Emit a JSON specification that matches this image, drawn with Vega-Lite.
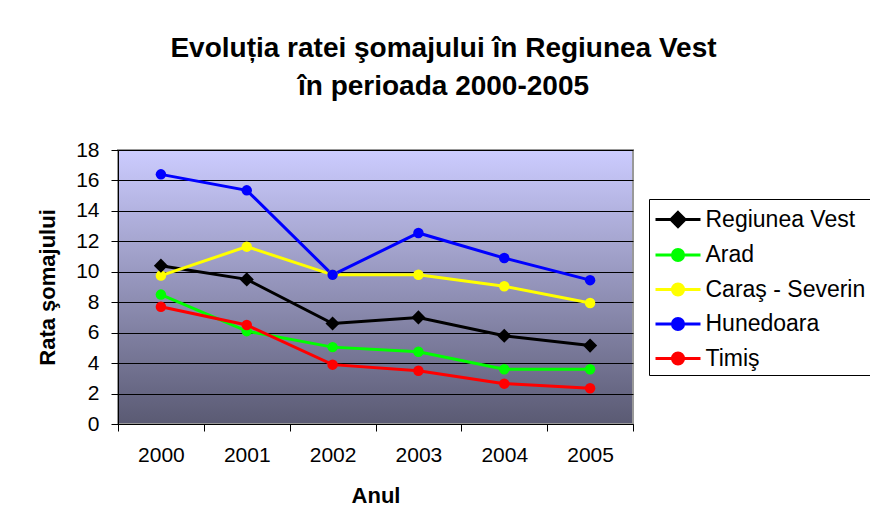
{
  "$schema": "https://vega.github.io/schema/vega-lite/v6.json",
  "autosize": {"type": "none"},
  "width": 515,
  "height": 274,
  "padding": {"left": 118, "top": 150, "right": 237, "bottom": 103},
  "background": "white",
  "title": {
    "text": ["Evoluția ratei şomajului în Regiunea Vest", "în perioada 2000-2005"],
    "font": "Liberation Sans",
    "fontSize": 28,
    "fontWeight": "bold",
    "color": "black",
    "anchor": "middle",
    "dx": 68,
    "offset": 38,
    "lineHeight": 38
  },
  "config": {
    "view": {
      "stroke": "#999999",
      "strokeWidth": 2,
      "fill": {
        "gradient": "linear",
        "x1": 0, "y1": 0, "x2": 0, "y2": 1,
        "stops": [
          {"offset": 0, "color": "#CCCCFF"},
          {"offset": 1, "color": "#5A5A73"}
        ]
      }
    },
    "font": "Liberation Sans",
    "axis": {
      "labelFont": "Liberation Sans",
      "titleFont": "Liberation Sans",
      "labelColor": "black",
      "titleColor": "black",
      "domainColor": "black",
      "tickColor": "black",
      "labelFontSize": 21,
      "titleFontSize": 22,
      "titleFontWeight": "bold",
      "tickSize": 7,
      "domainWidth": 1,
      "tickWidth": 1,
      "labelOverlap": false
    },
    "legend": {
      "labelFont": "Liberation Sans",
      "labelFontSize": 23,
      "labelColor": "black",
      "symbolSize": 900,
      "rowPadding": 5.5,
      "padding": 4,
      "symbolOffset": 8.5,
      "labelOffset": 11,
      "symbolStrokeWidth": 3,
      "strokeColor": "black",
      "fillColor": "white"
    }
  },
  "data": {
    "values": [
      {"an": "2000", "judet": "Regiunea Vest", "rata": 10.4},
      {"an": "2001", "judet": "Regiunea Vest", "rata": 9.5},
      {"an": "2002", "judet": "Regiunea Vest", "rata": 6.6},
      {"an": "2003", "judet": "Regiunea Vest", "rata": 7.0},
      {"an": "2004", "judet": "Regiunea Vest", "rata": 5.8},
      {"an": "2005", "judet": "Regiunea Vest", "rata": 5.15},
      {"an": "2000", "judet": "Arad", "rata": 8.5},
      {"an": "2001", "judet": "Arad", "rata": 6.1},
      {"an": "2002", "judet": "Arad", "rata": 5.05},
      {"an": "2003", "judet": "Arad", "rata": 4.75},
      {"an": "2004", "judet": "Arad", "rata": 3.6},
      {"an": "2005", "judet": "Arad", "rata": 3.6},
      {"an": "2000", "judet": "Caraş - Severin", "rata": 9.75},
      {"an": "2001", "judet": "Caraş - Severin", "rata": 11.65},
      {"an": "2002", "judet": "Caraş - Severin", "rata": 9.8},
      {"an": "2003", "judet": "Caraş - Severin", "rata": 9.8},
      {"an": "2004", "judet": "Caraş - Severin", "rata": 9.05},
      {"an": "2005", "judet": "Caraş - Severin", "rata": 7.95},
      {"an": "2000", "judet": "Hunedoara", "rata": 16.4},
      {"an": "2001", "judet": "Hunedoara", "rata": 15.35},
      {"an": "2002", "judet": "Hunedoara", "rata": 9.8},
      {"an": "2003", "judet": "Hunedoara", "rata": 12.55},
      {"an": "2004", "judet": "Hunedoara", "rata": 10.9},
      {"an": "2005", "judet": "Hunedoara", "rata": 9.45},
      {"an": "2000", "judet": "Timiş", "rata": 7.7},
      {"an": "2001", "judet": "Timiş", "rata": 6.5},
      {"an": "2002", "judet": "Timiş", "rata": 3.9},
      {"an": "2003", "judet": "Timiş", "rata": 3.5},
      {"an": "2004", "judet": "Timiş", "rata": 2.65},
      {"an": "2005", "judet": "Timiş", "rata": 2.35}
    ]
  },
  "layer": [
    {
      "mark": {"type": "line", "strokeWidth": 3},
      "encoding": {
        "x": {
          "field": "an", "type": "ordinal",
          "scale": {"paddingInner": 0, "paddingOuter": 0},
          "axis": {"title": "Anul", "labelAngle": 0, "tickBand": "extent", "labelPadding": 13, "titlePadding": 20, "grid": false}
        },
        "y": {
          "field": "rata", "type": "quantitative",
          "scale": {"domain": [0, 18], "nice": false},
          "axis": {"title": "Rata şomajului", "values": [0, 2, 4, 6, 8, 10, 12, 14, 16, 18], "grid": true, "gridColor": "black", "gridOpacity": 1, "gridWidth": 1, "labelPadding": 12, "titlePadding": 16}
        },
        "color": {
          "field": "judet", "type": "nominal",
          "scale": {
            "domain": ["Regiunea Vest", "Arad", "Caraş - Severin", "Hunedoara", "Timiş"],
            "range": ["#000000", "#00FF00", "#FFFF00", "#0000FF", "#FF0000"]
          },
          "legend": {
            "title": null,
            "orient": "none",
            "legendX": 531,
            "legendY": 49,
            "encode": {
              "symbols": {
                "update": {
                  "shape": {"signal": "datum.value === 'Regiunea Vest' ? 'M-1.5,0H1.5M0,-0.47L0.47,0L0,0.47L-0.47,0Z' : 'M-1.5,0H1.5M0.37,0A0.37,0.37 0 1,1 -0.37,0A0.37,0.37 0 1,1 0.37,0Z'"},
                  "fill": {"signal": "scale('color', datum.value)"},
                  "stroke": {"signal": "scale('color', datum.value)"},
                  "strokeWidth": {"value": 3},
                  "opacity": {"value": 1}
                }
              }
            }
          }
        }
      }
    },
    {
      "transform": [{"filter": "datum.judet !== 'Regiunea Vest'"}],
      "mark": {"type": "point", "shape": "circle", "size": 110, "filled": true, "opacity": 1},
      "encoding": {
        "x": {"field": "an", "type": "ordinal"},
        "y": {
          "field": "rata", "type": "quantitative",
          "axis": {"title": "Rata şomajului", "values": [0, 2, 4, 6, 8, 10, 12, 14, 16, 18], "grid": true, "gridColor": "black", "gridOpacity": 1, "gridWidth": 1, "labelPadding": 12, "titlePadding": 16}
        },
        "color": {"field": "judet", "type": "nominal", "legend": null}
      }
    },
    {
      "transform": [{"filter": "datum.judet === 'Regiunea Vest'"}],
      "mark": {"type": "point", "shape": "diamond", "size": 200, "filled": true, "opacity": 1},
      "encoding": {
        "x": {"field": "an", "type": "ordinal"},
        "y": {
          "field": "rata", "type": "quantitative",
          "axis": {"title": "Rata şomajului", "values": [0, 2, 4, 6, 8, 10, 12, 14, 16, 18], "grid": true, "gridColor": "black", "gridOpacity": 1, "gridWidth": 1, "labelPadding": 12, "titlePadding": 16}
        },
        "color": {"field": "judet", "type": "nominal", "legend": null}
      }
    }
  ]
}
